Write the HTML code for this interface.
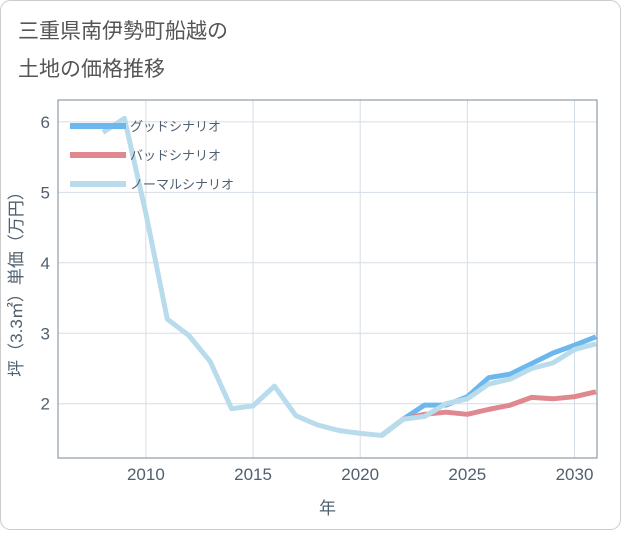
<!DOCTYPE html>
<html><head><meta charset="utf-8"><style>
body{margin:0;background:#fff;}
#wrap{width:621px;height:530px;position:relative;font-family:"Liberation Sans","Noto Sans CJK JP",sans-serif;}
</style></head><body>
<div id="wrap">
<svg id="svg" width="621" height="530" xmlns="http://www.w3.org/2000/svg">
<rect x="0.5" y="0.5" width="620" height="529" rx="10" fill="#fff" stroke="#ccc"/>
<text x="18" y="38" font-size="21" fill="#555" font-family="Liberation Sans, Noto Sans CJK JP, sans-serif">三重県南伊勢町船越の</text>
<text x="18" y="76" font-size="21" fill="#555" font-family="Liberation Sans, Noto Sans CJK JP, sans-serif">土地の価格推移</text>
<g id="grid"></g><g id="series"></g><g id="axes"></g>
</svg>
</div>
<script>
const years=[2008,2009,2010,2011,2012,2013,2014,2015,2016,2017,2018,2019,2020,2021,2022,2023,2024,2025,2026,2027,2028,2029,2030,2031];
const normalValues=[5.85,6.05,4.7,3.2,2.97,2.6,1.93,1.97,2.25,1.83,1.7,1.62,1.58,1.55,1.78,1.82,2.0,2.07,2.28,2.35,2.5,2.58,2.77,2.85];
const futureYears=[2021,2022,2023,2024,2025,2026,2027,2028,2029,2030,2031];
const goodValues=[1.55,1.78,1.98,1.98,2.1,2.37,2.42,2.57,2.72,2.83,2.95];
const badValues=[1.55,1.78,1.85,1.88,1.85,1.92,1.98,2.09,2.07,2.1,2.17];
const xTicks=[2010,2015,2020,2025,2030];
const yTicks=[2,3,4,5,6];
const legendLabels=["グッドシナリオ","バッドシナリオ","ノーマルシナリオ"];
const NS="http://www.w3.org/2000/svg";
const L=58,R=597,T=100,B=458;
const xMin=2005.9,xMax=2031.05,yMin=1.23,yMax=6.31;
const X=v=>L+(v-xMin)/(xMax-xMin)*(R-L);
const Y=v=>B-(v-yMin)/(yMax-yMin)*(B-T);
function mk(t,a,p){const e=document.createElementNS(NS,t);for(const k in a)e.setAttribute(k,a[k]);p.appendChild(e);return e;}
const grid=document.getElementById('grid'),ser=document.getElementById('series'),ax=document.getElementById('axes');
xTicks.forEach(t=>{const l=mk('line',{x1:X(t),x2:X(t),y1:T,y2:B,stroke:'#d5dde6'},grid);


const tx=mk('text',{x:X(t),y:B+22,'text-anchor':'middle','font-size':17,fill:'#506070'},ax);tx.textContent=t;

});
yTicks.forEach(t=>{const l=mk('line',{x1:L,x2:R,y1:Y(t),y2:Y(t),stroke:'#d5dde6'},grid);


const tx=mk('text',{x:L-8,y:Y(t)+6,'text-anchor':'end','font-size':17,fill:'#506070'},ax);tx.textContent=t;

});
const fr=mk('rect',{x:L,y:T,width:R-L,height:B-T,fill:'none',stroke:'#7a8894'},ax);


function line(xs,ys,c,name){const p=mk('polyline',{points:xs.map((x,i)=>X(x)+','+Y(ys[i])).join(' '),fill:'none',stroke:c,'stroke-width':5,'stroke-linejoin':'round'},ser);

}
line(futureYears,goodValues,'#6cb8ee','good-scenario-line');
line(futureYears,badValues,'#e0888f','bad-scenario-line');
line(years,normalValues,'#b8dcec','normal-scenario-line');
const lc=['#6cb8ee','#e0888f','#b8dcec'];
legendLabels.forEach((s,i)=>{const y=126+i*29;
const l=mk('line',{x1:70,x2:126,y1:y,y2:y,stroke:lc[i],'stroke-width':6},ax);


const tx=mk('text',{x:130,y:y+5,'font-size':13,fill:'#506070'},ax);tx.textContent=s;

});
const xt=mk('text',{x:(L+R)/2,y:514,'text-anchor':'middle','font-size':17,fill:'#506070'},ax);xt.textContent='年';


const yt=mk('text',{x:0,y:0,'text-anchor':'middle','font-size':17,fill:'#506070',transform:'translate(22,280) rotate(-90)'},ax);yt.textContent='坪（3.3㎡）単価（万円）';


</script>
</body></html>
